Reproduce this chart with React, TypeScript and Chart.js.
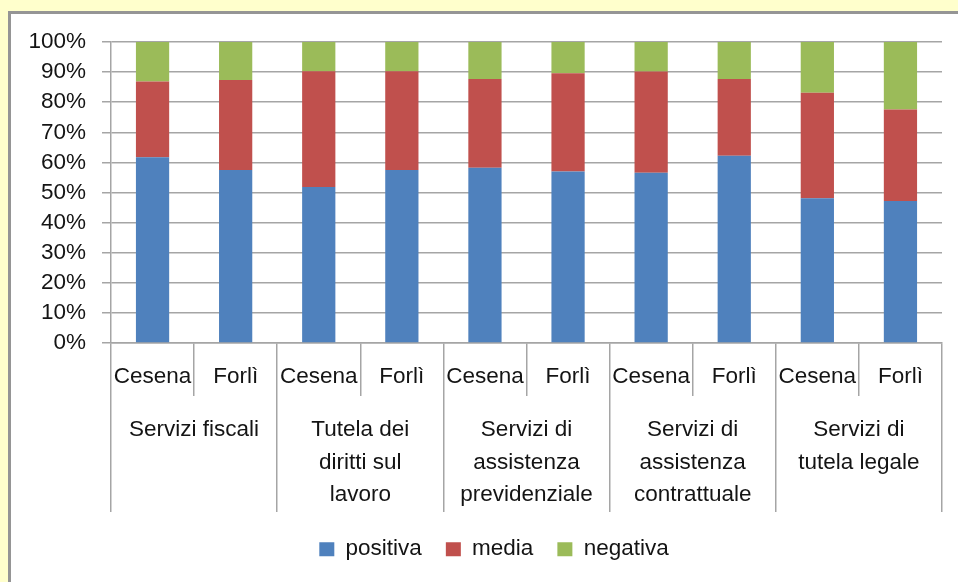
import React, { useEffect, useRef } from "react";
import { Chart, registerables } from "chart.js";

Chart.register(...registerables);

const cities = ["Cesena", "Forlì", "Cesena", "Forlì", "Cesena", "Forlì", "Cesena", "Forlì", "Cesena", "Forlì"];
const groups = [
  ["Servizi fiscali"],
  ["Tutela dei", "diritti sul", "lavoro"],
  ["Servizi di", "assistenza", "previdenziale"],
  ["Servizi di", "assistenza", "contrattuale"],
  ["Servizi di", "tutela legale"],
];
const positiva = [61.7, 57.5, 51.8, 57.5, 58.2, 57.0, 56.6, 62.2, 48.1, 47.2];
const media = [25.2, 29.9, 38.5, 32.8, 29.5, 32.6, 33.6, 25.5, 35.0, 30.4];
const negativa = [13.1, 12.6, 9.7, 9.7, 12.3, 10.4, 9.8, 12.3, 16.9, 22.4];
const yTicks = [0, 10, 20, 30, 40, 50, 60, 70, 80, 90, 100];

const FONT = "'Liberation Sans', Arial, sans-serif";
const TEXT = "#141414";
const GRID = "#a5a5a5";

const legendShift = {
  id: "legendShift",
  afterLayout(chart: any) {
    if (chart.legend) {
      chart.legend.left += 46;
    }
  },
};

export default function App() {
  const ref = useRef<HTMLCanvasElement | null>(null);

  useEffect(() => {
    if (!ref.current) return;
    const chart = new Chart(ref.current, {
      type: "bar",
      data: {
        labels: cities,
        datasets: [
          { label: "positiva", data: positiva, backgroundColor: "#4F81BD", xAxisID: "x", yAxisID: "y" },
          { label: "media", data: media, backgroundColor: "#C0504D", xAxisID: "x", yAxisID: "y" },
          { label: "negativa", data: negativa, backgroundColor: "#9BBB59", xAxisID: "x", yAxisID: "y" },
        ],
      },
      plugins: [legendShift],
      options: {
        responsive: false,
        animation: false,
        devicePixelRatio: 1,
        datasets: { bar: { categoryPercentage: 1, barPercentage: 0.4 } },
        layout: { padding: { left: 0, right: 16, top: 42, bottom: 11.5 } },
        plugins: {
          tooltip: { enabled: false },
          legend: {
            position: "bottom",
            labels: {
              boxWidth: 15,
              boxHeight: 14,
              padding: 24,
              color: TEXT,
              font: { family: FONT, size: 22.5 },
            },
          },
        },
        scales: {
          x: {
            type: "category",
            position: "bottom",
            stacked: true,
            offset: true,
            weight: 0,
            grid: {
              offset: true,
              drawOnChartArea: false,
              drawTicks: true,
              tickLength: 53,
              color: GRID,
              lineWidth: 1.5,
            },
            border: { display: true, color: GRID, width: 1.5 },
            ticks: {
              autoSkip: false,
              maxRotation: 0,
              minRotation: 0,
              padding: -32.5,
              color: TEXT,
              font: { family: FONT, size: 22.5, lineHeight: 1.2 },
            },
            afterFit: (s: any) => {
              s.height = 53;
            },
          },
          x2: {
            type: "category",
            position: "bottom",
            labels: groups as any,
            offset: true,
            weight: 1,
            grid: {
              offset: true,
              drawOnChartArea: false,
              drawTicks: true,
              tickLength: 116,
              color: GRID,
              lineWidth: 1.5,
            },
            border: { display: false },
            ticks: {
              autoSkip: false,
              maxRotation: 0,
              minRotation: 0,
              padding: -98.25,
              color: TEXT,
              font: { family: FONT, size: 22.5, lineHeight: 1.444 },
            },
            afterFit: (s: any) => {
              s.height = 118;
            },
          },
          y: {
            type: "linear",
            position: "left",
            stacked: true,
            min: 0,
            max: 100,
            afterBuildTicks: (s: any) => {
              s.ticks = yTicks.map((v) => ({ value: v }));
            },
            grid: {
              color: GRID,
              lineWidth: 1.5,
              drawTicks: true,
              tickLength: 9,
            },
            border: { display: true, color: GRID, width: 1.5 },
            ticks: {
              padding: 16,
              color: TEXT,
              font: { family: FONT, size: 22.5 },
              callback: (v: any) => v + "%",
            },
            afterFit: (s: any) => {
              s.width = 111;
            },
          },
        },
      },
    });
    return () => chart.destroy();
  }, []);

  return (
    <div
      style={{
        position: "fixed",
        left: 0,
        top: 0,
        width: 958,
        height: 582,
        background: "#FFFFCC",
        overflow: "hidden",
      }}
    >
      <div
        style={{
          position: "absolute",
          left: 8,
          top: 11,
          width: 960,
          height: 580,
          background: "#ffffff",
          borderTop: "3px solid #959595",
          borderLeft: "3px solid #959595",
        }}
      />
      <canvas
        ref={ref}
        width={958}
        height={582}
        style={{ position: "absolute", left: 0, top: 0, width: 958, height: 582 }}
      />
    </div>
  );
}
